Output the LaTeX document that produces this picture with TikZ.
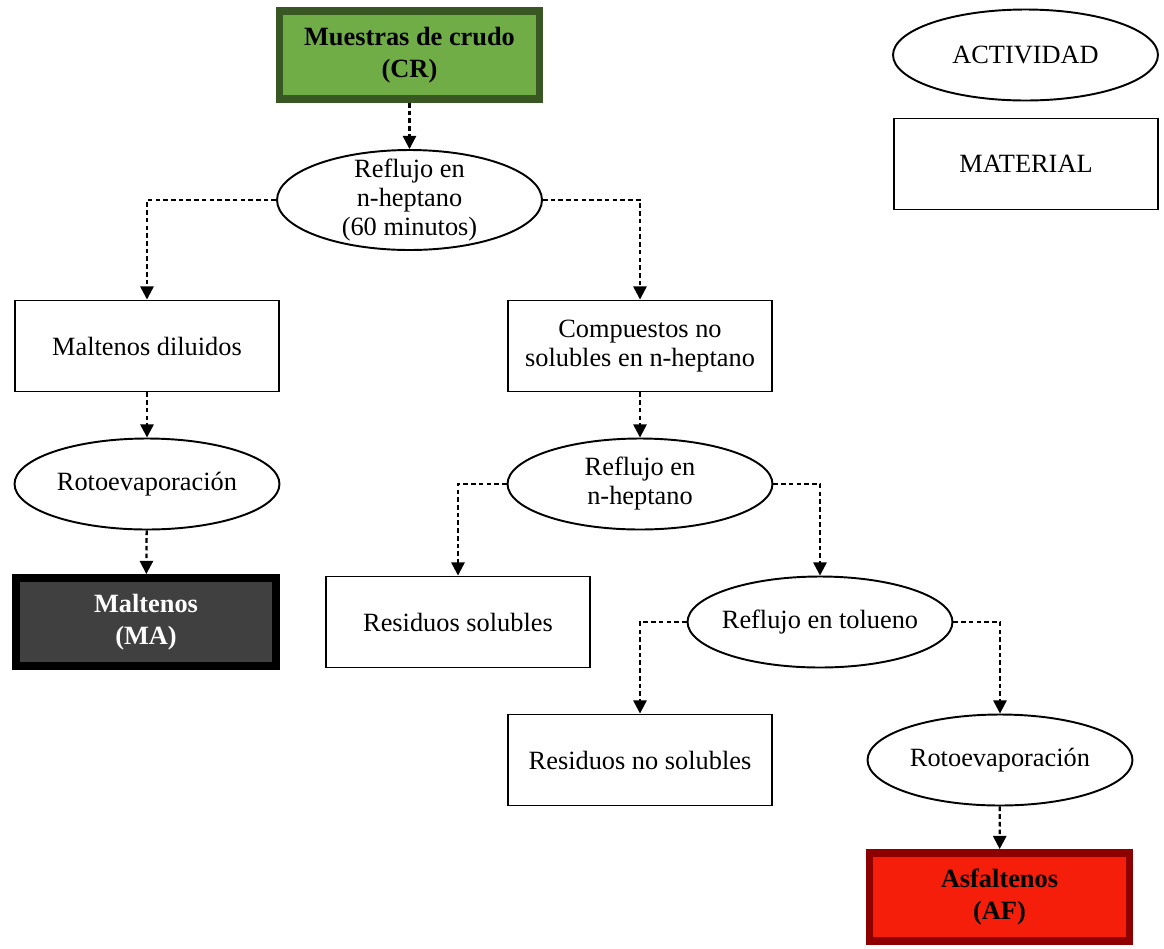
\documentclass[tikz,border=0pt]{standalone}
\usepackage{fontspec}
\setmainfont{Liberation Serif}
\usetikzlibrary{arrows.meta,shapes.geometric}
\definecolor{crfill}{HTML}{70AD47}
\definecolor{crline}{HTML}{385723}
\definecolor{mafill}{HTML}{404040}
\definecolor{affill}{HTML}{F41E0A}
\definecolor{afline}{HTML}{8E0000}

\begin{document}
\begin{tikzpicture}[x=0.02cm, y=-0.02cm,
    font=\fontsize{15pt}{16.5pt}\selectfont,
    >={Triangle[length=7.5pt,width=7.5pt]},
    material/.style={draw, line width=1.1pt, inner sep=0pt, align=center,
      minimum width=5.28cm, minimum height=1.82cm},
    actividad/.style={draw, ellipse, line width=1.1pt, inner sep=-0.3cm, align=center,
      minimum width=5.3cm, minimum height=1.82cm},
    producto/.style={draw, line width=4.5pt, inner sep=0pt, align=center,
      minimum width=5.2cm, minimum height=1.76cm, font=\fontsize{15pt}{18pt}\selectfont\bfseries},
    flujo/.style={->, line width=1.3pt, dash pattern=on 2.6pt off 1.8pt}]
  \useasboundingbox (0,0) rectangle (1164,948);
  % legend
  \node[actividad] (leyact) at (1025.5,55) {ACTIVIDAD};
  \node[material] (leymat) at (1026,164) {MATERIAL};
  % main column
  \node[producto, fill=crfill, draw=crline] (cr) at (409.5,55) {Muestras de crudo\\(CR)};
  \node[actividad, minimum height=2cm] (ref1) at (409.5,200) {Reflujo en\\n-heptano\\(60 minutos)};
  \node[material] (maltd) at (147,346) {Maltenos diluidos};
  \node[material] (comp) at (640,346) {Compuestos no\\solubles en n-heptano};
  \node[actividad] (roto1) at (147,484) {Rotoevaporación};
  \node[producto, fill=mafill, draw=black, text=white] (ma) at (146,622) {Maltenos\\(MA)};
  \node[actividad] (ref2) at (640,484) {Reflujo en\\n-heptano};
  \node[material] (ressol) at (458,622) {Residuos solubles};
  \node[actividad] (reftol) at (820,622) {Reflujo en tolueno};
  \node[material] (resnosol) at (640,760) {Residuos no solubles};
  \node[actividad] (roto2) at (1000,760) {Rotoevaporación};
  \node[producto, fill=affill, draw=afline] (af) at (999.5,897) {Asfaltenos\\(AF)};
  % connectors
  \draw[flujo] (cr) -- (ref1);
  \draw[flujo] (ref1.west) -| (maltd.north);
  \draw[flujo] (ref1.east) -| (comp.north);
  \draw[flujo] (maltd) -- (roto1);
  \draw[flujo] (roto1) -- (ma);
  \draw[flujo] (comp) -- (ref2);
  \draw[flujo] (ref2.west) -| (ressol.north);
  \draw[flujo] (ref2.east) -| (reftol.north);
  \draw[flujo] (reftol.west) -| (resnosol.north);
  \draw[flujo] (reftol.east) -| (roto2.north);
  \draw[flujo] (roto2) -- (af);
\end{tikzpicture}
\end{document}
